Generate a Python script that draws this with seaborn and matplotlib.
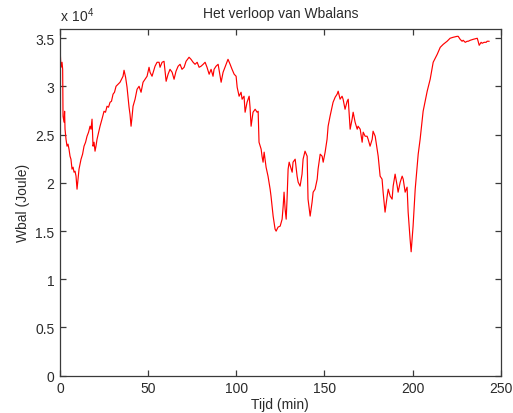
import matplotlib
matplotlib.use("Agg")
import matplotlib.pyplot as plt
from matplotlib.ticker import FuncFormatter
import seaborn as sns
import pandas as pd

# Time axis (minutes) and the W' balance (Joule)
t_min = [
    0.0, 0.3, 0.57, 1.14, 1.5, 1.7, 2.27, 2.6, 2.84, 3.4, 3.97, 4.54, 5.1, 5.68, 6.2,
    6.81, 7.4, 7.95, 8.5, 9.08, 9.65, 10.2, 10.78, 11.92, 12.8, 13.62, 14.5, 15.32,
    16.2, 17.03, 17.6, 18.16, 18.73, 19.3, 19.86, 20.4, 21.0, 22.7, 23.8, 24.97, 25.8,
    26.67, 27.5, 28.38, 29.2, 30.08, 30.9, 31.78, 32.9, 34.05, 34.9, 35.75, 36.32,
    37.2, 38.02, 38.6, 39.16, 39.7, 40.3, 40.9, 41.43, 42.57, 43.13,
    43.7, 44.84, 45.97, 47.1, 48.24, 49.38, 50.5, 51.08, 52.2, 53.9, 55.05, 56.2,
    56.75, 57.9, 59.0, 60.2, 61.3, 62.4, 63.6, 64.7, 65.8, 67.0, 68.1, 69.2, 70.4,
    71.5, 73.2, 74.3, 75.5, 76.6, 77.8, 78.9, 80.0, 81.2, 82.3, 83.4, 84.6, 85.7, 86.8,
    87.4, 88.5, 89.7, 91.4, 92.5, 94.2, 95.3, 96.5, 97.6, 98.8, 99.9, 100.5, 101.6,
    102.7, 103.3, 104.4, 105.0, 106.1, 107.3, 107.8, 108.4, 109.5, 110.7, 111.8, 112.4,
    112.9, 114.1, 114.6, 115.2, 115.8, 116.3, 116.9, 118.0, 119.2, 119.7, 120.9, 122.0,
    122.6, 123.7, 124.9, 126.0, 126.6, 127.1, 127.7, 128.3, 128.8, 129.4, 130.0,
    131.7, 132.2, 133.4, 134.5, 135.1, 136.2, 137.3, 137.9, 139.0, 140.2, 140.7, 141.9,
    143.0, 143.6, 144.7, 145.9, 146.4, 147.6, 148.7, 149.3, 150.4, 151.5, 152.1, 153.2,
    154.4, 154.9, 156.1, 157.2, 157.8, 158.9, 160.0, 160.6, 161.7, 162.9, 163.5, 164.6,
    165.7, 166.3, 167.4, 168.6, 169.1, 170.3, 171.4, 172.0, 173.1, 174.2, 174.8, 175.9,
    177.1, 177.6, 178.8, 179.9, 180.5, 181.6, 182.7, 183.3, 184.4, 185.6, 186.2, 187.3,
    188.4, 189.0, 190.1, 191.3, 191.8, 193.0, 194.1, 194.7, 195.8, 196.9, 197.5, 198.6,
    199.2, 199.8, 200.3, 201.5, 202.6, 203.2, 204.3, 206.0, 208.3, 210.0,
    211.7, 214.0, 215.7, 217.4, 219.6, 221.3, 223.0, 225.3, 225.9, 227.0, 228.1, 228.7,
    229.9, 231.0, 231.6, 232.7, 234.4, 236.7, 237.2, 237.8, 238.9, 239.5, 240.6, 241.8,
    242.3, 243.5,
]

wbal_joule = [
    34190, 32810, 31980, 32500, 31770, 26910, 26290, 27420, 25560, 24520, 23800, 24010,
    23490, 22760, 22450, 21420, 21620, 21100, 21210, 20690, 19340, 20380, 21420, 22450,
    22970, 23800, 24210, 24830, 25250, 25870, 25560, 26600, 23800, 24210, 23280, 23800,
    24520, 25870, 26600, 27420, 27320, 27940, 27840, 28350, 28460, 29190, 29390, 30010,
    30220, 30430, 30740, 31050, 31670, 30950, 29910, 28880, 27840, 27110, 25870, 26910,
    27940, 28670, 29190,
    29700, 30010, 29390, 30430, 30740, 31050, 31980, 31460, 31050, 32090, 32500, 32500,
    31980, 32500, 32600, 30530, 31260, 31770, 31460, 30740, 31570, 32090, 32290, 31770,
    31980, 32600, 33020, 32810, 32500, 32290, 32500, 31980, 32090, 32290, 32500, 31980,
    31260, 31770, 31050,
    31770, 32090, 32290, 30430, 31460, 32290, 32810, 32290, 31770, 31260, 31050, 29910,
    28980, 29390, 28670, 28980, 27320, 28350, 28980, 27840, 25870, 27320, 27630, 27320,
    27420, 24210, 23490, 22760, 22140, 23180, 22450, 21620, 20690, 19340, 18620, 16550,
    15200, 14990, 15410, 15510, 16230, 17580, 19030, 17270, 16230, 18310, 21420, 22140,
    21100, 22140, 22450, 20690, 20070, 19660, 20900, 22450, 23280, 22760, 18310, 16550,
    18000, 19030, 19340, 20380, 21420, 22970, 22760, 22140, 23180, 24520, 25870, 26910,
    27940, 28350, 28880, 29190, 29500, 28670, 28980, 28670, 27630, 28460, 28670, 25560,
    26600, 27320, 26290, 25560, 25870, 25560, 24210, 25250, 24830, 24830, 24520, 23800,
    24520, 25350, 24830, 23490, 22760, 20690, 20380, 19030, 16960, 18620, 19340, 18620,
    18310, 19660, 20900, 19660, 19030, 20070, 20690, 20380, 19030, 19550, 16960, 14160,
    12850, 14370, 15510, 19340, 21730, 22970, 24520, 27420, 29500, 30740,
    32500, 33330, 34050, 34360, 34680, 34990, 35090, 35190, 35190, 34880, 34680, 34780,
    34570, 34680, 34680, 34780, 34880, 34990, 34680, 34260, 34570, 34470, 34570, 34570,
    34680, 34680,
]

x_ticks = [0, 50, 100, 150, 200, 250]
y_ticks = [0, 5000, 10000, 15000, 20000, 25000, 30000, 35000]

df = pd.DataFrame({"Tijd": t_min, "Wbal": wbal_joule})

sns.set_style("white")
plt.rcParams["font.family"] = ["Liberation Sans", "DejaVu Sans"]
plt.rcParams["mathtext.fontset"] = "custom"
plt.rcParams["mathtext.rm"] = "Liberation Sans"
text_color = "#2b2b2b"
axis_color = "#3a3a3a"

fig = plt.figure(figsize=(5.13, 4.14), dpi=100, facecolor="white")
ax = fig.add_axes([0.117, 0.0901, 0.859, 0.8386])

sns.lineplot(data=df, x="Tijd", y="Wbal", ax=ax, color="#ff0000", linewidth=0.85,
             estimator=None, sort=False)

ax.set_xlim(0, 250)
ax.set_ylim(0, 36000)
ax.set_xticks(x_ticks)
ax.set_yticks(y_ticks)
ax.yaxis.set_major_formatter(FuncFormatter(lambda v, p: f"{v / 1e4:g}"))

for side in ["left", "right", "top", "bottom"]:
    ax.spines[side].set_visible(True)
    ax.spines[side].set_color(axis_color)
    ax.spines[side].set_linewidth(0.9)

ax.tick_params(axis="both", which="major", direction="in", length=4, width=0.9,
               color=axis_color, labelcolor=text_color, labelsize=10,
               bottom=True, left=True, top=True, right=True, pad=4)

ax.set_xlabel("Tijd (min)", fontsize=10, color=text_color, labelpad=1)
ax.set_ylabel("Wbal (Joule)", fontsize=10, color=text_color, labelpad=4)
ax.set_title("Het verloop van Wbalans", fontsize=10, color=text_color, pad=8)

# exponent of the scaled y axis
ax.text(0.0, 1.012, r"$\mathregular{x\ 10^{4}}$", transform=ax.transAxes,
        fontsize=10, color=text_color, ha="left", va="bottom")

fig.savefig("out.png", dpi=100, facecolor="white")
